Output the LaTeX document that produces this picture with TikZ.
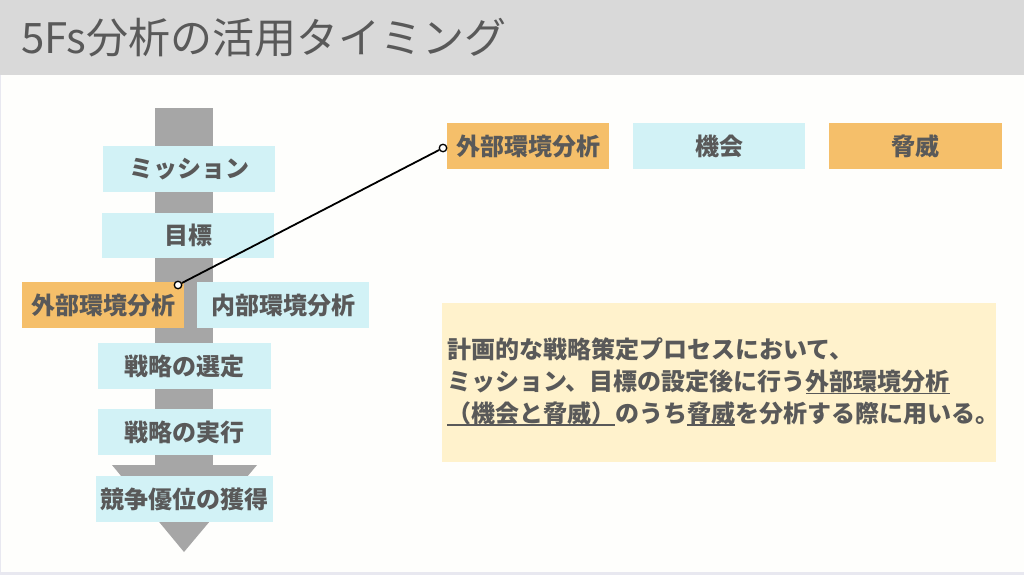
\documentclass[tikz,border=0pt]{standalone}
\usepackage{fontspec}
\setmainfont{Noto Sans CJK JP}
\usetikzlibrary{calc}
\definecolor{txtgray}{RGB}{89,89,89}
\definecolor{barcyan}{RGB}{210,242,246}
\definecolor{barorange}{RGB}{245,191,106}
\definecolor{notebg}{RGB}{255,242,204}
\definecolor{flowgray}{RGB}{166,166,166}
\definecolor{headgray}{RGB}{217,217,217}
\definecolor{pagebg}{RGB}{254,254,252}
\definecolor{edgelav}{RGB}{232,232,240}
\newcommand\ulword[1]{\setbox0\hbox{#1}\rlap{\color{txtgray}\rule[-3.5pt]{\wd0}{1.4pt}}\box0}
\tikzset{
  >={latex},
  stage/.style={fill=barcyan, text=txtgray, font=\fontsize{24}{28}\bfseries, inner sep=0pt, minimum height=46},
  focus/.style={stage, fill=barorange},
  dot/.style={circle, draw=black, fill=white, line width=1.3pt, inner sep=0pt, minimum size=7.5}
}
\begin{document}
\begin{tikzpicture}[x=1pt,y=-1pt]
    \fill[edgelav] (0,0) rectangle (1024,575);
    \fill[pagebg] (1,0) rectangle (1024,572);
    \fill[headgray] (0,0) rectangle (1024,75);
    \node[anchor=west, text=txtgray, font=\fontsize{42}{48}\selectfont, inner sep=0pt] (title) at (21,38) {5Fs分析の活用タイミング};
    \fill[flowgray] (155,108) rectangle (213,466);
    \fill[flowgray] (112,465) -- (257,465) -- (184,552) -- cycle;
    \node[stage, minimum width=172] (mission) at (189,169) {ミッション};
    \node[stage, minimum width=172, minimum height=45] (goal) at (188,235.5) {目標};
    \node[focus, minimum width=162] (ext) at (103,305) {外部環境分析};
    \node[stage, minimum width=172] (int) at (283,305) {内部環境分析};
    \node[stage, minimum width=173] (select) at (184.5,366) {戦略の選定};
    \node[stage, minimum width=173] (execute) at (184.5,432) {戦略の実行};
    \node[stage, minimum width=177] (advantage) at (184.5,499) {競争優位の獲得};
    \node[focus, minimum width=162] (extR) at (528,146) {外部環境分析};
    \node[stage, minimum width=172] (opp) at (719,146) {機会};
    \node[focus, minimum width=173] (threat) at (915.5,146) {脅威};
    \fill[notebg] (442,303) rectangle (996,462);
    \node[anchor=north west, align=left, text=txtgray, font=\fontsize{24}{31.7}\bfseries, inner sep=0pt] (note) at (447,338)
      {計画的な戦略策定プロセスにおいて、\\
       ミッション、目標の設定後に行う\ulword{外部環境分析}\\
       \ulword{（機会と脅威）}のうち\ulword{脅威}を分析する際に用いる。};
    \node[dot] (d1) at (178,285) {};
    \node[dot] (d2) at (443,148) {};
    \draw[line width=1.8pt] (d1) -- (d2);
\end{tikzpicture}
\end{document}
